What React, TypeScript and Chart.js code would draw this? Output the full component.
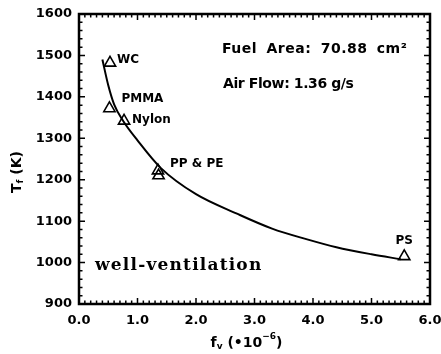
import React, { useEffect, useRef } from "react";
import { Chart, registerables } from "chart.js";

Chart.register(...registerables);

// ---- data ----
const xTickValues = [0, 1, 2, 3, 4, 5, 6];
const yTickValues = [900, 1000, 1100, 1200, 1300, 1400, 1500, 1600];
const xMinorStep = 0.1;
const yMinorStep = 20;

// fitted curve (f_v, T_f)
const curveF = [0.4, 0.5, 0.6, 0.75, 1.0, 1.4, 2.0, 2.7, 3.3, 3.9, 4.4, 5.0, 5.5];
const curveT = [1490, 1428, 1382, 1343, 1295, 1228, 1165, 1118, 1082, 1056, 1037, 1020, 1008];

// measured fuels
const fuelNames = ["WC", "PMMA", "Nylon", "PP", "PE", "PS"];
const fuelF = [0.53, 0.52, 0.77, 1.35, 1.36, 5.56];
const fuelT = [1482, 1372, 1342, 1222, 1210, 1015];
const fuelLabels = ["WC", "PMMA", "Nylon", "PP & PE", "", "PS"];

const noteLines = ["Fuel Area: 70.88 cm\u00B2", "Air Flow: 1.36 g/s"];
const regimeLabel = "well-ventilation";

const SANS = "'DejaVu Sans', sans-serif";
const SERIF = "'DejaVu Serif', serif";

// label placement relative to marker pixel (dx, dy, align)
const labelOffsets: [number, number, CanvasTextAlign][] = [
  [7, -3, "left"],
  [12, -10, "left"],
  [8, -1, "left"],
  [12, -7, "left"],
  [0, 0, "left"],
  [0, -15, "center"],
];

const framePlugin = {
  id: "frameTicks",
  afterDatasetsDraw(chart: any) {
    const { ctx, chartArea: a, scales } = chart;
    const x = scales.x;
    const y = scales.y;
    ctx.save();
    ctx.strokeStyle = "#000";
    ctx.lineWidth = 1.5;
    ctx.beginPath();
    const yMin = yTickValues[0];
    const yMax = yTickValues[yTickValues.length - 1];
    for (let v = yMin; v <= yMax + 1e-6; v += yMinorStep) {
      const py = y.getPixelForValue(v);
      const major = yTickValues.includes(v);
      const len = major ? 6 : 3.5;
      ctx.moveTo(a.left, py);
      ctx.lineTo(a.left + len, py);
      ctx.moveTo(a.right, py);
      ctx.lineTo(a.right - len, py);
    }
    const xMin = xTickValues[0];
    const xMax = xTickValues[xTickValues.length - 1];
    const n = Math.round((xMax - xMin) / xMinorStep);
    for (let i = 0; i <= n; i++) {
      const v = xMin + i * xMinorStep;
      const px = x.getPixelForValue(v);
      const major = i % 10 === 0;
      const len = major ? 6 : 3.5;
      ctx.moveTo(px, a.bottom);
      ctx.lineTo(px, a.bottom - len);
      ctx.moveTo(px, a.top);
      ctx.lineTo(px, a.top + len);
    }
    ctx.stroke();
    ctx.lineWidth = 2.5;
    ctx.strokeRect(a.left, a.top, a.right - a.left, a.bottom - a.top);
    ctx.restore();
  },
  afterDraw(chart: any) {
    const { ctx, chartArea: a, scales } = chart;
    const x = scales.x;
    const y = scales.y;
    ctx.save();
    ctx.fillStyle = "#000";
    ctx.textBaseline = "middle";

    // point labels
    ctx.font = `bold 12px ${SANS}`;
    fuelLabels.forEach((lab, i) => {
      if (!lab) return;
      const px = x.getPixelForValue(fuelF[i]);
      const py = y.getPixelForValue(fuelT[i]);
      const [dx, dy, al] = labelOffsets[i];
      ctx.textAlign = al;
      ctx.fillText(lab, px + dx, py + dy);
    });

    // notes
    ctx.textAlign = "left";
    ctx.font = `bold 14px ${SANS}`;
    (ctx as any).wordSpacing = "4px";
    (ctx as any).letterSpacing = "0.5px";
    ctx.fillText(noteLines[0], 222, 49);
    (ctx as any).wordSpacing = "0px";
    (ctx as any).letterSpacing = "-0.4px";
    ctx.fillText(noteLines[1], 223, 84);
    (ctx as any).letterSpacing = "0px";

    // regime label
    ctx.font = `bold 17px ${SERIF}`;
    (ctx as any).letterSpacing = "1.2px";
    ctx.fillText(regimeLabel, 95, 266);
    (ctx as any).letterSpacing = "0px";

    // x title: f_v (•10^-6)
    const subFont = `bold 9px ${SANS}`;
    const parts: [string, string, number][] = [
      ["f", `bold 14px ${SANS}`, 0],
      ["v", subFont, 4],
      [" (\u202210", `bold 14px ${SANS}`, 0],
      ["\u22126", subFont, -6],
      [")", `bold 14px ${SANS}`, 0],
    ];
    let total = 0;
    parts.forEach(([t, f]) => {
      ctx.font = f;
      total += ctx.measureText(t).width;
    });
    let cx = (a.left + a.right) / 2 - 8 - total / 2;
    parts.forEach(([t, f, dy]) => {
      ctx.font = f;
      ctx.fillText(t, cx, 343 + dy);
      cx += ctx.measureText(t).width;
    });

    // y title: T_f (K)
    const yparts: [string, string, number][] = [
      ["T", `bold 14px ${SANS}`, 0],
      ["f", subFont, 4],
      [" (K)", `bold 14px ${SANS}`, 0],
    ];
    let ytotal = 0;
    yparts.forEach(([t, f]) => {
      ctx.font = f;
      ytotal += ctx.measureText(t).width;
    });
    ctx.translate(17, 172);
    ctx.rotate(-Math.PI / 2);
    let cy = -ytotal / 2;
    yparts.forEach(([t, f, dy]) => {
      ctx.font = f;
      ctx.fillText(t, cy, dy);
      cy += ctx.measureText(t).width;
    });
    ctx.restore();
  },
};

export default function App() {
  const ref = useRef<HTMLCanvasElement | null>(null);
  useEffect(() => {
    if (!ref.current) return;
    const tickFont = { family: SANS, weight: "bold" as const, size: 13 };
    const chart = new Chart(ref.current, {
      type: "line",
      data: {
        datasets: [
          {
            label: "fit",
            data: curveF.map((f, i) => ({ x: f, y: curveT[i] })),
            borderColor: "#000",
            borderWidth: 2,
            pointRadius: 0,
            cubicInterpolationMode: "monotone",
            fill: false,
          },
          {
            label: "fuels",
            data: fuelF.map((f, i) => ({ x: f, y: fuelT[i], name: fuelNames[i] })) as any,
            showLine: false,
            pointStyle: "triangle",
            pointRadius: 6.5,
            pointBorderWidth: 1.6,
            pointBorderColor: "#000",
            pointBackgroundColor: "rgba(0,0,0,0)",
          },
        ],
      },
      options: {
        responsive: false,
        animation: false,
        devicePixelRatio: 1,
        layout: { padding: { top: 14, right: 11, left: 0, bottom: 0 } },
        plugins: { legend: { display: false }, tooltip: { enabled: false } },
        scales: {
          x: {
            type: "linear",
            min: xTickValues[0],
            max: xTickValues[xTickValues.length - 1],
            ticks: {
              stepSize: 1,
              callback: (v: any) => Number(v).toFixed(1),
              font: tickFont,
              color: "#000",
              padding: 9,
              maxRotation: 0,
              autoSkip: false,
            },
            grid: { display: false, drawTicks: false },
            border: { display: false },
            afterFit: (s: any) => {
              s.height = 50;
              s.paddingLeft = 0;
              s.paddingRight = 0;
            },
          },
          y: {
            type: "linear",
            min: yTickValues[0],
            max: yTickValues[yTickValues.length - 1],
            ticks: {
              stepSize: 100,
              callback: (v: any) => String(v),
              font: tickFont,
              color: "#000",
              padding: 7,
              autoSkip: false,
            },
            grid: { display: false, drawTicks: false },
            border: { display: false },
            afterFit: (s: any) => {
              s.width = 79;
              s.paddingTop = 0;
              s.paddingBottom = 0;
            },
          },
        },
      },
      plugins: [framePlugin],
    });
    return () => chart.destroy();
  }, []);
  return (
    <div style={{ position: "absolute", left: 0, top: 0, width: 441, height: 354, background: "#fff" }}>
      <canvas ref={ref} width={441} height={354} />
    </div>
  );
}
